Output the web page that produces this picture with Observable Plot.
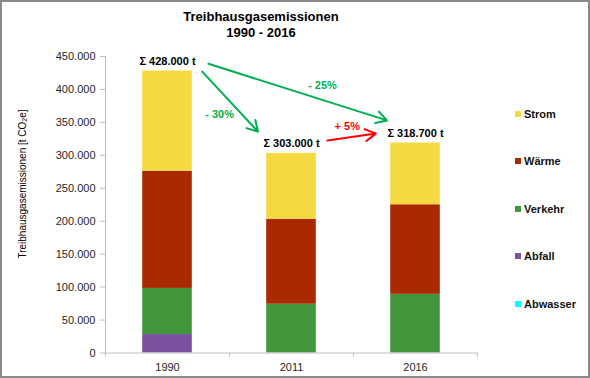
<!DOCTYPE html>
<html>
<head>
<meta charset="utf-8">
<script src="https://cdn.jsdelivr.net/npm/d3@7"></script>
<script src="https://cdn.jsdelivr.net/npm/@observablehq/plot@0.6"></script>
<style>
  html, body { margin: 0; padding: 0; background: #fff; }
  #chart { position: relative; width: 590px; height: 378px; background: #fff; font-family: "Liberation Sans", Arial, sans-serif; overflow: hidden; }
  #plot { position: absolute; left: 0; top: 0; }
  .title { position: absolute; left: 261px; top: 9px; transform: translateX(-50%); text-align: center; font-weight: bold; font-size: 13px; line-height: 16px; color: #000; white-space: nowrap; }
  .ylabel { position: absolute; left: 22px; top: 184px; transform: translate(-50%, -50%) rotate(-90deg); font-size: 10px; color: #000; white-space: nowrap; }
  .ylabel sub { font-size: 7px; vertical-align: -1px; line-height: 0; }
  .legend { position: absolute; left: 515px; top: 90px; }
  .legend .item { height: 47.5px; display: flex; align-items: center; font-weight: bold; font-size: 11px; color: #111; }
  .legend .sw { width: 6px; height: 6px; margin-right: 3px; }
  .frame { position: absolute; left: 0; top: 0; width: 590px; height: 378px; box-sizing: border-box; border: 2px solid #8a8a8a; pointer-events: none; }
</style>
</head>
<body>
<div id="chart">
  <div id="plot"></div>
  <div class="title">Treibhausgasemissionen<br>1990 - 2016</div>
  <div class="ylabel">Treibhausgasemissionen [t CO<sub>2</sub>e]</div>
  <div class="legend" id="legend"></div>
  <div class="frame"></div>
</div>
<script>
// ---- data ----
const years = ["1990", "2011", "2016"];
const categories = ["Abwasser", "Abfall", "Verkehr", "Wärme", "Strom"]; // stack order, bottom first
const colors = ["#00FFFF", "#7B52A0", "#44963C", "#A92A00", "#F4D942"];
const abwasser = [0, 0, 0];
const abfall = [28000, 0, 0];
const verkehr = [70000, 74000, 89000];
const waerme = [178000, 129000, 136000];
const strom = [152000, 100000, 93700];
const series = [abwasser, abfall, verkehr, waerme, strom];
const yTicks = [0, 50000, 100000, 150000, 200000, 250000, 300000, 350000, 400000, 450000];

// change annotations (data space: x = year index, y = t CO2e)
const changeLabels = ["- 30%", "- 25%", "+ 5%"];
const changeColors = ["#00B050", "#00B050", "#FF0000"];
const arrowX1 = [0.28, 0.33, 1.29];
const arrowY1 = [427000, 439000, 322500];
const arrowX2 = [0.73, 1.77, 1.68];
const arrowY2 = [336000, 353000, 333000];
const labelX = [0.42, 1.25, 1.45];
const labelY = [362000, 406000, 344000];

// ---- build tables ----
const rows = [];
categories.forEach((cat, c) => {
  years.forEach((yr, i) => rows.push({i, year: yr, cat, value: series[c][i], color: colors[c]}));
});
const totals = years.map((yr, i) => ({i, total: d3.sum(series, s => s[i])}));
const arrows = changeLabels.map((t, k) => ({
  text: t, color: changeColors[k],
  x1: arrowX1[k], y1: arrowY1[k], x2: arrowX2[k], y2: arrowY2[k],
  lx: labelX[k], ly: labelY[k]
}));

const de = d3.formatLocale({decimal: ",", thousands: ".", grouping: [3], currency: ["", " €"]});
const fmt = de.format(",");

const font = "'Liberation Sans', Arial, sans-serif";
const axisGray = "#BFBFBF";

const chart = Plot.plot({
  width: 590,
  height: 378,
  marginLeft: 105,
  marginRight: 113,
  marginTop: 56,
  marginBottom: 25.5,
  style: {fontFamily: font, fontSize: "11px", background: "transparent", color: "#262626"},
  x: {domain: [-0.5, 2.5], axis: null},
  y: {domain: [0, 450000], axis: null},
  color: {type: "identity"},
  marks: [
    Plot.rectY(rows, Plot.stackY({x1: d => d.i - 0.2, x2: d => d.i + 0.2, y: "value", fill: "color"})),
    Plot.ruleX([-0.5], {stroke: axisGray}),
    Plot.ruleY([0], {stroke: axisGray}),
    Plot.axisY({ticks: yTicks, tickFormat: fmt, tickSize: 5, tickPadding: 5, label: null, stroke: axisGray, fill: "#262626"}),
    Plot.axisX({ticks: [0, 1, 2], tickFormat: i => years[i], tickSize: 0, tickPadding: 10, label: null, fill: "#262626"}),
    Plot.axisX({ticks: [-0.5, 0.5, 1.5, 2.5], tickFormat: () => "", tickSize: 4, label: null, stroke: axisGray}),
    Plot.text(totals, {x: "i", y: "total", text: d => "Σ " + fmt(d.total) + " t", dy: -10, fontWeight: "bold", fontSize: 11, fill: "#000"}),
    Plot.arrow(arrows, {x1: "x1", y1: "y1", x2: "x2", y2: "y2", stroke: "color", strokeWidth: 2, headLength: 9}),
    Plot.text(arrows, {x: "lx", y: "ly", text: "text", fill: "color", fontWeight: "bold", fontSize: 11})
  ]
});
document.getElementById("plot").appendChild(chart);

// legend (top to bottom = reverse stack order)
const legend = document.getElementById("legend");
categories.slice().reverse().forEach((cat, k) => {
  const c = colors[categories.length - 1 - k];
  const item = document.createElement("div");
  item.className = "item";
  const sw = document.createElement("span");
  sw.className = "sw";
  sw.style.background = c;
  const tx = document.createElement("span");
  tx.textContent = cat;
  item.appendChild(sw);
  item.appendChild(tx);
  legend.appendChild(item);
});
</script>
</body>
</html>
